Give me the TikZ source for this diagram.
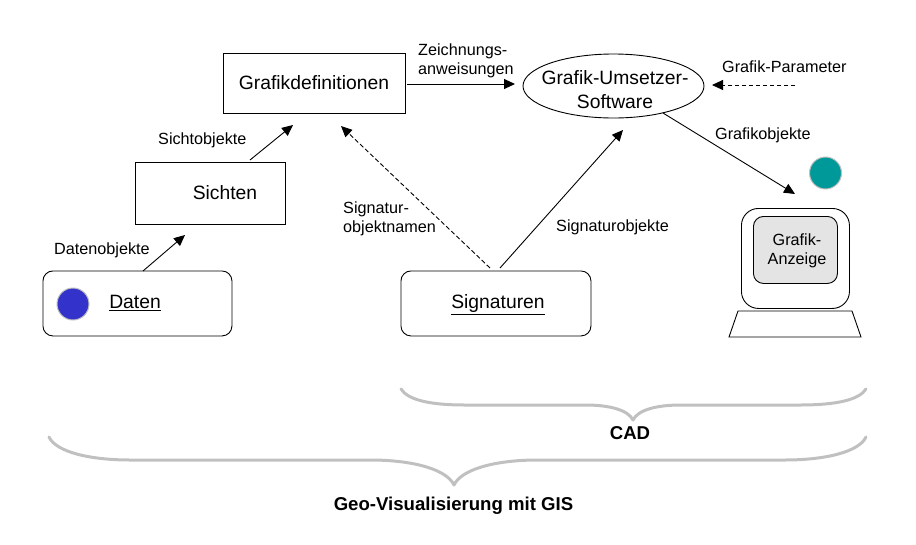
\documentclass[tikz,border=0pt]{standalone}
\usepackage{fontspec}
\setmainfont{Liberation Sans}
\usetikzlibrary{arrows.meta,shapes.geometric}
\definecolor{bracegray}{RGB}{192,192,192}
\definecolor{monfill}{RGB}{228,228,228}
\definecolor{bluedot}{RGB}{51,51,204}
\definecolor{tealdot}{RGB}{0,153,153}
\tikzset{
  x=1pt,y=-1pt,
  outline/.style={draw=black,line width=0.9pt},
  boxnode/.style={outline,rectangle,anchor=north west,inner sep=0pt,font=\fontsize{19.3}{24}\selectfont,align=center},
  roundbox/.style={boxnode,rounded corners=10pt},
  lbl/.style={font=\fontsize{16.2}{19}\selectfont,align=left,inner sep=0pt,anchor=west},
  bigtext/.style={font=\fontsize{19.3}{24}\selectfont,inner sep=0pt,align=center},
  conn/.style={line width=0.9pt,-{Triangle[length=11pt,width=10pt]}},
  dconn/.style={conn,dash pattern=on 4.5pt off 2.5pt},
  brace/.style={draw=bracegray,line width=3pt,line cap=round,line join=round},
  dot/.style={circle,draw=black!25,line width=1pt,inner sep=0pt,minimum size=32pt},
}
\begin{document}
\begin{tikzpicture}
\useasboundingbox (0,0) rectangle (916,544);
\node[boxnode,minimum width=182pt,minimum height=60pt] (def) at (222.5,52.5) {Grafikdefinitionen};
\node[boxnode,minimum width=150pt,minimum height=62pt] (sichten) at (134.5,161.5) {};
\node[bigtext] (sichtentext) at (225,193) {Sichten};
\node[roundbox,minimum width=189pt,minimum height=65pt] (daten) at (42.5,270.5) {};
\node[bigtext] (datentext) at (135,303) {\underline{Daten}};
\node[roundbox,minimum width=190pt,minimum height=65pt] (sig) at (400.5,270.5) {};
\node[bigtext] (sigtext) at (498,305) {\underline{Signaturen}};
\node[ellipse,outline,minimum width=181pt,minimum height=64pt,inner sep=0pt] (soft) at (613.5,86) {};
\node[bigtext] (softtext) at (615,89.5) {Grafik-Umsetzer-\\Software};
\node[dot,fill=bluedot] (bdot) at (73,304) {};
\node[dot,fill=tealdot] (tdot) at (825.5,173) {};
% monitor
\node[roundbox,rounded corners=17pt,minimum width=108pt,minimum height=100pt] (mon) at (741,208) {};
\node[roundbox,rounded corners=10pt,fill=monfill,minimum width=84pt,minimum height=67pt] (anz) at (753,216) {};
\node[bigtext,font=\fontsize{16.2}{19}\selectfont] (anztext) at (797,251) {Grafik-\\Anzeige};
\draw[outline] (738,311) -- (852,311) -- (861,337) -- (729,337) -- cycle;
% free connector ends
\coordinate (a1) at (143,271);\coordinate (a2) at (185,235);
\coordinate (b1) at (250,160);\coordinate (b2) at (293,125);
\coordinate (c1) at (490,268);\coordinate (c2) at (341,126);
\coordinate (d1) at (500,268);\coordinate (d2) at (623,130);
\coordinate (e1) at (407,84);\coordinate (e2) at (515,84);
\coordinate (f1) at (795,85);\coordinate (f2) at (712,85);
\coordinate (g1) at (663,113);\coordinate (g2) at (795,194);
\draw[conn] (a1) -- (a2);
\draw[conn] (b1) -- (b2);
\draw[dconn] (c1) -- (c2);
\draw[conn] (d1) -- (d2);
\draw[conn] (e1) -- (e2);
\draw[dconn] (f1) -- (f2);
\draw[conn] (g1) -- (g2);
% labels
\node[lbl] (l1) at (54,250) {Datenobjekte};
\node[lbl] (l2) at (158,140) {Sichtobjekte};
\node[lbl] (l3) at (343,219) {Signatur-\\objektnamen};
\node[lbl] (l3x) at (556,227) {Signaturobjekte};
\node[lbl] (l4) at (418,60.5) {Zeichnungs-\\anweisungen};
\node[lbl] (l5) at (722,67) {Grafik-Parameter};
\node[lbl] (l6) at (715,135) {Grafikobjekte};
% braces
\draw[brace] (401,389) .. controls (408,400) and (430,405) .. (465,405)
  -- (585,405) .. controls (610,405) and (628,410) .. (633,420)
  .. controls (638,410) and (656,405) .. (681,405)
  -- (800,405) .. controls (836,405) and (859,400) .. (866,389);
\draw[brace] (49,437) .. controls (56,452) and (90,460) .. (130,460)
  -- (370,460) .. controls (415,460) and (447,470) .. (454,485)
  .. controls (461,470) and (493,460) .. (538,460)
  -- (785,460) .. controls (825,460) and (859,452) .. (866,437);
\node[font=\bfseries\fontsize{18.6}{22}\selectfont,inner sep=0pt] (cad) at (630,433) {CAD};
\node[font=\bfseries\fontsize{18.6}{22}\selectfont,inner sep=0pt] (geo) at (453.5,506) {Geo-Visualisierung mit GIS};
\end{tikzpicture}
\end{document}
